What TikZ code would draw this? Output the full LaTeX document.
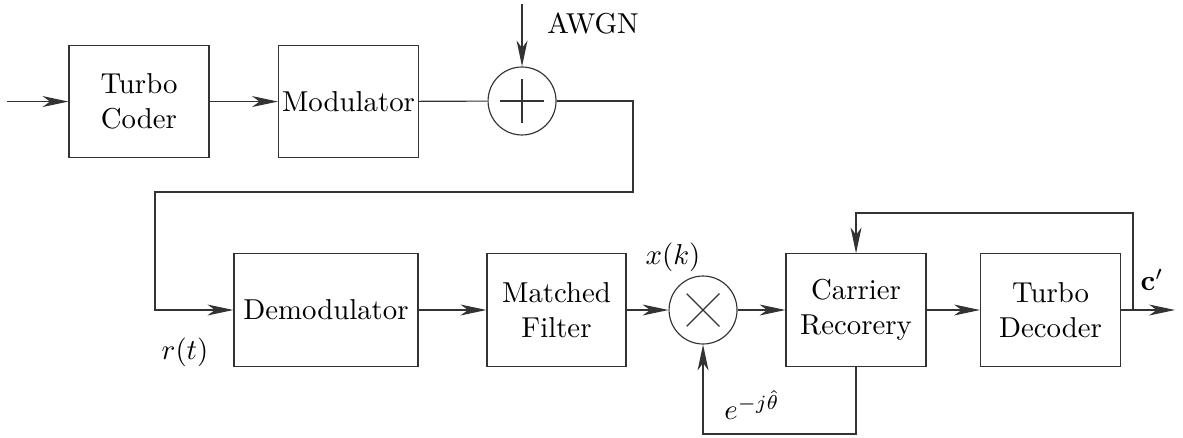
\documentclass[tikz,border=0pt]{standalone}
\usetikzlibrary{arrows.meta}
\begin{document}
\begin{tikzpicture}[
	blk/.style={draw=black!80,minimum width=1.709cm,minimum height=1.37cm,align=center,inner sep=1pt},
	sumc/.style={draw=black!80,circle,minimum size=0.83cm,inner sep=0pt},
	wire/.style={draw=black!80},
	arr/.style={wire,-{Stealth[length=9pt,width=3.8pt,inset=2.6pt]}}]
	\useasboundingbox(0,0)rectangle(14.444,5.336);
	\node[blk](coder)at(1.697,4.096){Turbo\\Coder};
	\node[blk](modul)at(4.255,4.096){Modulator};
	\node[sumc](adder)at(6.374,4.103){};
	\draw[wire]([xshift=-0.27cm]adder.center)--([xshift=0.27cm]adder.center);
	\draw[wire]([yshift=-0.27cm]adder.center)--([yshift=0.27cm]adder.center);
	\node[blk,minimum width=2.247cm](demod)at(3.980,1.551){Demodulator};
	\node[blk,minimum width=1.697cm](mf)at(6.795,1.551){Matched\\Filter};
	\node[sumc](mult)at(8.584,1.551){};
	\draw[wire]([shift={(-0.2,-0.2)}]mult.center)--([shift={(0.2,0.2)}]mult.center);
	\draw[wire]([shift={(-0.2,0.2)}]mult.center)--([shift={(0.2,-0.2)}]mult.center);
	\node[blk](carrier)at(10.452,1.551){Carrier\\Recorery};
	\node[blk](dec)at(12.827,1.551){Turbo\\Decoder};
	\coordinate(in)at(0.085,4.096);
	\coordinate(noise)at(6.374,5.287);
	\coordinate(turn)at(7.729,2.991);
	\coordinate(back)at(1.893,2.991);
	\coordinate(tap)at(13.834,1.551);
	\coordinate(top)at(13.834,2.735);
	\coordinate(out)at(14.347,1.551);
	\coordinate(low)at(8.584,0.037);
	\draw[arr](in)--(coder);
	\draw[arr](coder)--(modul);
	\draw[wire](modul)--(adder);
	\draw[arr](noise)--(adder);
	\draw[arr](adder)-|(turn)--(back)|-(demod);
	\draw[arr](demod)--(mf);
	\draw[arr](mf)--(mult);
	\draw[arr](mult)--(carrier);
	\draw[arr](carrier)--(dec);
	\draw[arr](dec)--(out);
	\draw[arr](tap)--(top)-|(carrier);
	\draw[arr](carrier)|-(low)--(mult);
	\node(awgn)at(7.241,5.043){AWGN};
	\node(rt)at(2.259,1.038){$r(t)$};
	\node(xk)at(8.217,2.198){$x(k)$};
	\node(est)at(9.182,0.391){$e^{-j\hat{\theta}}$};
	\node(cout)at(14.066,1.917){$\mathbf{c}'$};
\end{tikzpicture}
\end{document}
